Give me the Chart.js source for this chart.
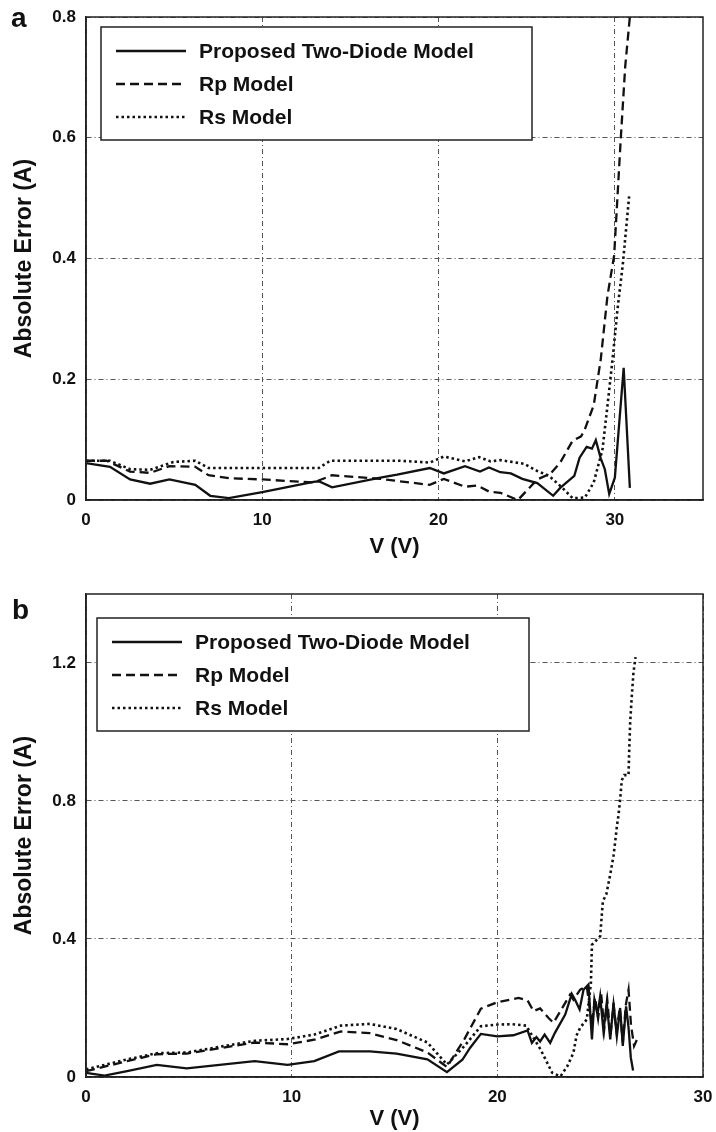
<!DOCTYPE html>
<html><head><meta charset="utf-8">
<script src="https://cdn.jsdelivr.net/npm/chart.js@4.4.1/dist/chart.umd.min.js"></script>
<style>
html,body{margin:0;padding:0;background:#fff;}
canvas{display:block;}
</style></head>
<body>
<canvas id="cA" width="716" height="577"></canvas>
<canvas id="cB" width="716" height="555"></canvas>
<script>
// ---------- shared labels / ticks ----------
const seriesLabels = ['Proposed Two-Diode Model', 'Rp Model', 'Rs Model'];
const xTicksA = [0, 10, 20, 30];
const yTicksA = [0, 0.2, 0.4, 0.6, 0.8];
const xTicksB = [0, 10, 20, 30];
const yTicksB = [0, 0.4, 0.8, 1.2];

// ---------- Panel a data ----------
const vA_two = [0, 1.36, 2.5, 3.64, 4.73, 6.2, 7.05, 8.1, 10, 12.9, 13.2, 13.96, 16.7, 17.65, 19.5, 20.3, 21.5, 22.35, 22.86, 23.5, 24.1, 24.75, 25.6, 26.5, 26.9, 27.7, 28.0, 28.4, 28.7, 28.92, 29.2, 29.43, 29.68, 30.0, 30.5, 30.85];
const eA_two = [0.061, 0.055, 0.034, 0.027, 0.034, 0.025, 0.007, 0.003, 0.013, 0.030, 0.031, 0.021, 0.037, 0.042, 0.053, 0.044, 0.056, 0.047, 0.054, 0.046, 0.044, 0.035, 0.028, 0.007, 0.020, 0.040, 0.070, 0.088, 0.085, 0.099, 0.069, 0.051, 0.010, 0.037, 0.219, 0.020];

const vA_rp = [0, 1.17, 2.5, 3.64, 4.73, 6.2, 6.95, 8.2, 10, 12.9, 13.96, 16.7, 19.5, 20.3, 21.5, 22.2, 22.86, 23.5, 24.5, 25.6, 26.36, 26.9, 27.6, 28.07, 28.26, 28.8, 29.2, 29.58, 29.96, 30.34, 30.59, 30.85];
const eA_rp = [0.065, 0.065, 0.047, 0.045, 0.056, 0.055, 0.041, 0.036, 0.034, 0.029, 0.041, 0.035, 0.025, 0.035, 0.022, 0.024, 0.014, 0.012, 0.0, 0.034, 0.044, 0.062, 0.098, 0.105, 0.114, 0.157, 0.233, 0.338, 0.405, 0.601, 0.719, 0.80];

const vA_rs = [0, 1.36, 2.5, 3.64, 4.96, 6.2, 6.95, 10, 13.2, 13.86, 17.84, 19.5, 20.3, 21.5, 22.3, 22.95, 23.5, 24.85, 25.6, 26.27, 27.03, 27.6, 28.3, 28.8, 29.3, 29.58, 29.87, 30.15, 30.45, 30.81];
const eA_rs = [0.065, 0.065, 0.051, 0.050, 0.063, 0.065, 0.053, 0.053, 0.053, 0.065, 0.065, 0.062, 0.072, 0.064, 0.071, 0.064, 0.066, 0.060, 0.048, 0.040, 0.020, 0.003, 0.004, 0.029, 0.084, 0.156, 0.233, 0.316, 0.390, 0.503];

// ---------- Panel b data ----------
const vB_two = [0, 0.9, 2, 3.44, 4.9, 8.2, 9.8, 11.1, 12.3, 13.8, 15.1, 16.6, 17.55, 18.3, 18.68, 19.2, 20.0, 20.78, 21.47, 21.68, 21.9, 22.08, 22.3, 22.57, 22.8, 23.3, 23.62, 23.78, 24.0, 24.19, 24.43, 24.6, 24.72, 24.87, 25.0, 25.16, 25.32, 25.49, 25.65, 25.81, 25.97, 26.1, 26.26, 26.38, 26.49, 26.6];
const eB_two = [0.012, 0.004, 0.017, 0.035, 0.025, 0.046, 0.035, 0.046, 0.074, 0.074, 0.068, 0.051, 0.014, 0.050, 0.085, 0.125, 0.118, 0.121, 0.135, 0.099, 0.116, 0.103, 0.123, 0.099, 0.128, 0.181, 0.241, 0.224, 0.196, 0.253, 0.268, 0.109, 0.224, 0.181, 0.234, 0.133, 0.215, 0.109, 0.215, 0.118, 0.200, 0.090, 0.205, 0.143, 0.056, 0.019];

const vB_rp = [0, 2, 3.44, 4.9, 8.2, 9.8, 11.1, 12.4, 13.8, 15.1, 16.6, 17.55, 18.4, 19.2, 20.0, 21.03, 21.47, 21.76, 22.08, 22.49, 22.73, 23.54, 23.7, 24.03, 24.35, 24.6, 24.75, 24.9, 25.05, 25.2, 25.35, 25.5, 25.65, 25.8, 25.95, 26.1, 26.25, 26.38, 26.5, 26.65, 26.8];
const eB_rp = [0.017, 0.046, 0.066, 0.068, 0.100, 0.095, 0.108, 0.132, 0.127, 0.107, 0.071, 0.029, 0.110, 0.198, 0.217, 0.229, 0.222, 0.191, 0.199, 0.171, 0.157, 0.239, 0.224, 0.253, 0.263, 0.150, 0.230, 0.170, 0.240, 0.140, 0.220, 0.120, 0.210, 0.130, 0.200, 0.100, 0.210, 0.253, 0.150, 0.090, 0.110];

const vB_rs = [0, 2, 3.44, 4.9, 8.2, 9.8, 11.1, 12.4, 13.8, 15.1, 16.6, 17.55, 18.4, 19.2, 20.0, 20.7, 21.4, 22.1, 22.67, 23.07, 23.4, 23.7, 23.85, 24.03, 24.35, 24.55, 24.6, 24.84, 25.0, 25.13, 25.3, 25.5, 25.65, 25.73, 25.81, 25.89, 25.97, 26.05, 26.17, 26.38, 26.41, 26.46, 26.54, 26.62, 26.72];
const eB_rs = [0.022, 0.051, 0.069, 0.071, 0.105, 0.110, 0.123, 0.149, 0.154, 0.139, 0.100, 0.036, 0.090, 0.147, 0.152, 0.153, 0.149, 0.080, 0.012, 0.002, 0.031, 0.070, 0.120, 0.143, 0.167, 0.273, 0.383, 0.398, 0.408, 0.509, 0.530, 0.590, 0.642, 0.682, 0.725, 0.759, 0.803, 0.860, 0.875, 0.875, 0.942, 1.029, 1.106, 1.173, 1.217];

// ---------- helpers ----------
const FONT = "'Liberation Sans', Arial, Helvetica, sans-serif";
Chart.defaults.font.family = FONT;
Chart.defaults.color = '#111';

const pts = (xs, ys) => xs.map((x, i) => ({x: x, y: ys[i]}));

const lineStyles = [
  {borderDash: [], borderWidth: 2.3},
  {borderDash: [9, 5], borderWidth: 2.3},
  {borderDash: [2.5, 3], borderWidth: 2.6}
];

const decorPlugin = {
  id: 'decor',
  afterDraw(chart, args, o) {
    const ctx = chart.ctx;
    const ca = chart.chartArea;
    ctx.save();
    const b = o.box;
    ctx.setLineDash([]);
    ctx.fillStyle = '#fff';
    ctx.fillRect(b.x, b.y, b.w, b.h);
    ctx.strokeStyle = '#222';
    ctx.lineWidth = 1.5;
    ctx.strokeRect(b.x, b.y, b.w, b.h);
    chart.data.datasets.forEach((ds, i) => {
      const y = b.y + 24 + 33 * i;
      ctx.beginPath();
      ctx.setLineDash(ds.borderDash || []);
      ctx.lineWidth = ds.borderWidth;
      ctx.strokeStyle = '#111';
      ctx.moveTo(b.x + 15, y);
      ctx.lineTo(b.x + 85, y);
      ctx.stroke();
      ctx.setLineDash([]);
      ctx.fillStyle = '#111';
      ctx.font = 'bold 21px ' + FONT;
      ctx.textBaseline = 'middle';
      ctx.textAlign = 'left';
      ctx.fillText(ds.label, b.x + 98, y + 1);
    });
    ctx.setLineDash([]);
    ctx.strokeStyle = '#222';
    ctx.lineWidth = 1.5;
    ctx.strokeRect(ca.left, ca.top, ca.right - ca.left, ca.bottom - ca.top);
    ctx.fillStyle = '#111';
    ctx.font = 'bold 28px ' + FONT;
    ctx.textBaseline = 'alphabetic';
    ctx.textAlign = 'left';
    ctx.fillText(o.letter, o.lx, o.ly);
    ctx.restore();
  }
};

function makeChart(id, series, cfg) {
  const datasets = series.map((s, i) => ({
    label: seriesLabels[i],
    data: s,
    borderColor: '#111',
    backgroundColor: '#111',
    borderWidth: lineStyles[i].borderWidth,
    borderDash: lineStyles[i].borderDash,
    pointRadius: 0,
    tension: 0,
    fill: false
  }));
  const gridStyle = {color: '#555', lineWidth: 1, drawTicks: false};
  return new Chart(document.getElementById(id), {
    type: 'line',
    data: {datasets},
    options: {
      responsive: false,
      animation: false,
      devicePixelRatio: 1,
      layout: {padding: cfg.padding},
      plugins: {
        legend: {display: false},
        tooltip: {enabled: false},
        decor: cfg.decor
      },
      scales: {
        x: {
          type: 'linear',
          min: cfg.xMin, max: cfg.xMax,
          afterFit: s => { s.height = cfg.xHeight; s.paddingLeft = 0; s.paddingRight = 0; },
          afterBuildTicks: s => { s.ticks = cfg.xTicks.map(v => ({value: v})); },
          ticks: {font: {size: 17, weight: 'bold'}, padding: 10, color: '#111', maxRotation: 0},
          grid: gridStyle,
          border: {display: true, color: '#222', width: 1.5, dash: [5, 3, 1, 3]},
          title: {display: true, text: 'V (V)', font: {size: 22, weight: 'bold'}, color: '#111', padding: {top: 0, bottom: 0}}
        },
        y: {
          type: 'linear',
          min: cfg.yMin, max: cfg.yMax,
          afterFit: s => { s.width = 86; s.paddingTop = 0; s.paddingBottom = 0; },
          afterBuildTicks: s => { s.ticks = cfg.yTicks.map(v => ({value: v})); },
          ticks: {font: {size: 17, weight: 'bold'}, padding: 10, color: '#111'},
          grid: gridStyle,
          border: {display: true, color: '#222', width: 1.5, dash: [5, 3, 1, 3]},
          title: {display: true, text: 'Absolute Error (A)', font: {size: 23, weight: 'bold'}, color: '#111', padding: {top: 11, bottom: 0}}
        }
      }
    },
    plugins: [decorPlugin]
  });
}

makeChart('cA', [pts(vA_two, eA_two), pts(vA_rp, eA_rp), pts(vA_rs, eA_rs)], {
  xMin: 0, xMax: 35, yMin: 0, yMax: 0.8,
  xTicks: xTicksA, yTicks: yTicksA,
  xHeight: 60,
  padding: {top: 17, right: 13, bottom: 17, left: 0},
  decor: {letter: 'a', lx: 11, ly: 27, box: {x: 101, y: 27, w: 431, h: 113}}
});

makeChart('cB', [pts(vB_two, eB_two), pts(vB_rp, eB_rp), pts(vB_rs, eB_rs)], {
  xMin: 0, xMax: 30, yMin: 0, yMax: 1.4,
  xTicks: xTicksB, yTicks: yTicksB,
  xHeight: 55,
  padding: {top: 17, right: 13, bottom: 0, left: 0},
  decor: {letter: 'b', lx: 12, ly: 42, box: {x: 97, y: 41, w: 432, h: 113}}
});
</script>
</body></html>
